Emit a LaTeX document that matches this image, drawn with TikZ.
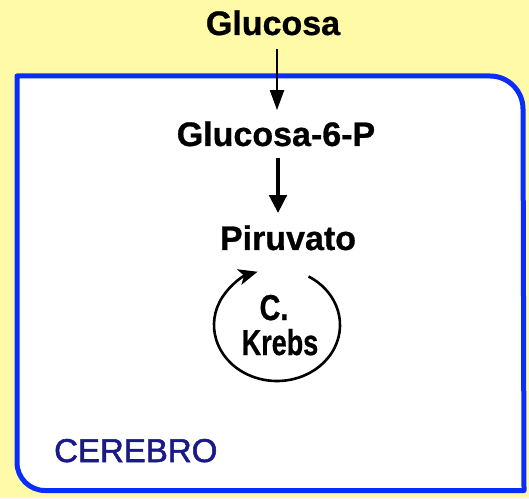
\documentclass[tikz,border=0pt]{standalone}
\usepackage{fontspec}
\setmainfont{Liberation Sans}[BoldFeatures={FakeBold=0.8}]
\newfontfamily\labelfont{Liberation Sans}[FakeBold=1.6]
\usetikzlibrary{arrows.meta,calc}
\definecolor{bgyellow}{RGB}{255,250,168}
\definecolor{cellblue}{RGB}{10,45,250}
\definecolor{labelnavy}{RGB}{25,25,135}
\begin{document}
\begin{tikzpicture}[x=1pt,y=1pt,
  metab/.style={font=\fontsize{34}{40}\selectfont\bfseries, inner sep=0pt, anchor=base},
  krebstxt/.style={font=\fontsize{36}{40}\selectfont\bfseries, inner sep=0pt, anchor=base},
  thinarrow/.style={line width=2pt, -{Triangle[length=20pt,width=14pt]}},
  thickarrow/.style={line width=4.5pt, -{Triangle[length=18pt,width=17pt]}},
  cyclearrow/.style={line width=2.6pt, -{Stealth[length=19pt,width=16pt,inset=5pt]}},
  cellwall/.style={draw=cellblue, line width=5pt, fill=white, line join=round}]
  % background
  \path[fill=bgyellow, use as bounding box] (0,0) rectangle (529,498);
  % cell membrane
  \draw[cellwall] (17,35) -- (17,422) -- (490,422)
    arc[start angle=90, end angle=0, radius=33] -- (524,7.5) -- (45,7.5)
    arc[start angle=270, end angle=180, radius=28] -- cycle;
  % metabolites
  \node[metab] (glc) at (273,463) {Glucosa};
  \node[metab] (g6p) at (276,352) {Glucosa-6-P};
  \node[metab] (pir) at (288,248) {Piruvato};
  % Krebs cycle label
  \node[krebstxt] (kc1) at (274,178) {\scalebox{0.8}[1]{C.}};
  \node[krebstxt] (kc2) at (280,143) {\scalebox{0.75}[1]{Krebs}};
  \coordinate (kc) at (277,173);
  % compartment label
  \node[font=\fontsize{33}{40}\selectfont\labelfont, text=labelnavy, inner sep=0pt, anchor=base west] (cer) at (54,36) {CEREBRO};
  % reactions
  \draw[thinarrow] ([xshift=4pt,yshift=-13pt]glc.south) -- ([xshift=1pt,yshift=11pt]g6p.north);
  \draw[thickarrow] ([xshift=2pt,yshift=-11pt]g6p.south) -- ([xshift=-10pt,yshift=12pt]pir.north);
  \draw[cyclearrow] ($(kc)+(60:63 and 56)$) arc[start angle=60, end angle=-252, x radius=63, y radius=56];
\end{tikzpicture}
\end{document}
